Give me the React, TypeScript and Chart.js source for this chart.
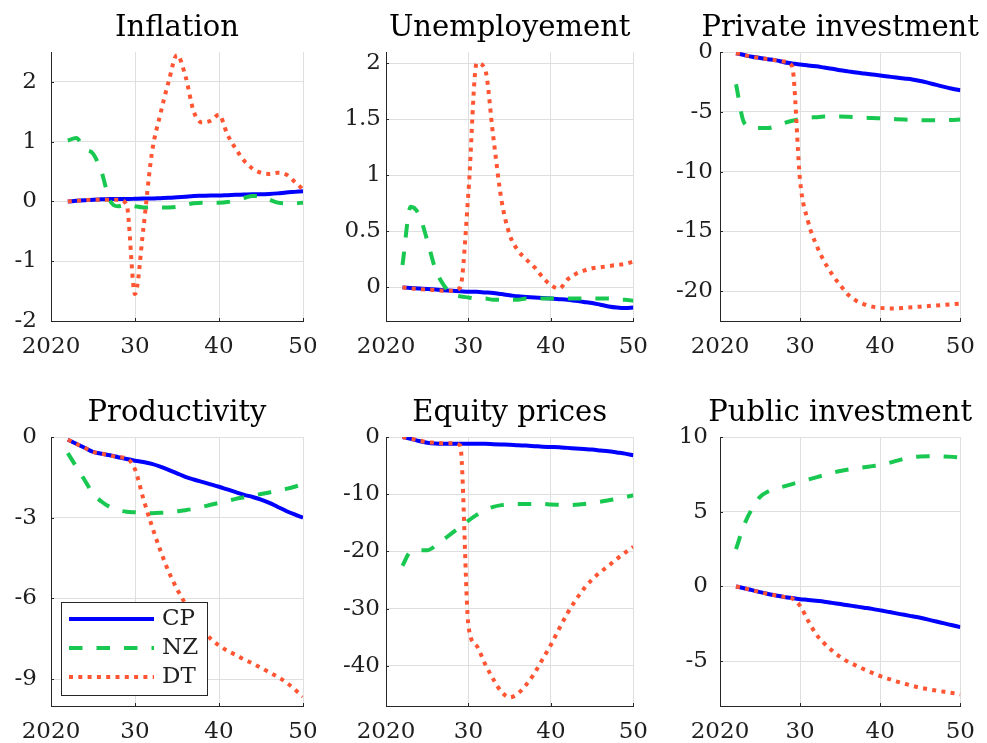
import React, { useEffect, useRef } from 'react';
import { Chart, registerables } from 'chart.js';

Chart.register(...registerables);

// ---------- data ----------
const years = [2022, 2023, 2024, 2025, 2026, 2027, 2028, 2029, 2030, 2031, 2032, 2033, 2034, 2035, 2036, 2037, 2038, 2039, 2040, 2041, 2042, 2043, 2044, 2045, 2046, 2047, 2048, 2049, 2050];
const xTicks = [2020, 2030, 2040, 2050];
const xTickLabels = ['2020', '30', '40', '50'];
const seriesNames = ['CP', 'NZ', 'DT'];
const panelTitles = ['Inflation', 'Unemployement', 'Private investment', 'Productivity', 'Equity prices', 'Public investment'];

const inflationCP = [0, 0.01, 0.02, 0.03, 0.035, 0.04, 0.04, 0.04, 0.045, 0.05, 0.05, 0.055, 0.06, 0.07, 0.08, 0.09, 0.095, 0.1, 0.1, 0.105, 0.11, 0.115, 0.12, 0.12, 0.125, 0.135, 0.15, 0.16, 0.17];
const inflationNZ = [1.02, 1.06, 0.88, 0.8, 0.5, 0.02, -0.08, -0.05, -0.08, -0.1, -0.1, -0.1, -0.1, -0.09, -0.06, -0.03, -0.02, -0.02, -0.02, -0.01, 0.02, 0.06, 0.09, 0.09, 0.03, -0.02, -0.03, -0.03, -0.02];
const inflationDT = [0, 0.01, 0.02, 0.03, 0.03, 0.03, 0.03, -0.05, -1.55, -0.45, 0.8, 1.45, 2.0, 2.45, 2.1, 1.5, 1.32, 1.35, 1.45, 1.12, 0.88, 0.68, 0.55, 0.48, 0.46, 0.48, 0.45, 0.33, 0.2];

const unempCP = [0, -0.005, -0.01, -0.015, -0.02, -0.025, -0.03, -0.035, -0.04, -0.04, -0.045, -0.05, -0.06, -0.07, -0.08, -0.085, -0.09, -0.095, -0.1, -0.105, -0.11, -0.12, -0.13, -0.14, -0.155, -0.17, -0.18, -0.185, -0.18];
const unempNZ = [0.2, 0.72, 0.65, 0.42, 0.16, 0.02, -0.06, -0.08, -0.09, -0.1, -0.1, -0.11, -0.11, -0.11, -0.11, -0.1, -0.1, -0.1, -0.1, -0.1, -0.1, -0.1, -0.1, -0.1, -0.1, -0.1, -0.11, -0.11, -0.12];
const unempDT = [0, -0.01, -0.015, -0.02, -0.025, -0.03, -0.03, 0.0, 0.85, 2.0, 1.95, 1.35, 0.78, 0.47, 0.33, 0.25, 0.18, 0.09, 0.02, -0.01, 0.07, 0.12, 0.15, 0.17, 0.18, 0.19, 0.2, 0.21, 0.23];

const privCP = [-0.1, -0.25, -0.4, -0.5, -0.6, -0.7, -0.85, -0.95, -1.05, -1.12, -1.2, -1.3, -1.4, -1.52, -1.62, -1.72, -1.8, -1.88, -1.96, -2.05, -2.14, -2.22, -2.3, -2.42, -2.58, -2.75, -2.92, -3.07, -3.2];
const privNZ = [-2.7, -5.9, -6.3, -6.35, -6.35, -6.2, -5.95, -5.75, -5.6, -5.5, -5.45, -5.4, -5.4, -5.4, -5.42, -5.45, -5.5, -5.52, -5.55, -5.58, -5.62, -5.65, -5.67, -5.7, -5.7, -5.7, -5.7, -5.68, -5.65];
const privDT = [-0.1, -0.25, -0.4, -0.5, -0.6, -0.7, -0.8, -1.2, -10.8, -14.2, -16.1, -17.5, -18.6, -19.5, -20.3, -20.8, -21.1, -21.3, -21.4, -21.45, -21.45, -21.4, -21.35, -21.3, -21.25, -21.2, -21.15, -21.1, -21.05];

const prodCP = [-0.1, -0.25, -0.4, -0.55, -0.62, -0.68, -0.75, -0.82, -0.88, -0.93, -1.0, -1.1, -1.22, -1.35, -1.48, -1.58, -1.67, -1.76, -1.85, -1.95, -2.05, -2.15, -2.23, -2.33, -2.45, -2.6, -2.75, -2.88, -3.0];
const prodNZ = [-0.6, -1.1, -1.6, -2.1, -2.4, -2.6, -2.72, -2.78, -2.8, -2.82, -2.83, -2.82, -2.8, -2.76, -2.72, -2.67, -2.6, -2.52, -2.45, -2.38, -2.3, -2.24, -2.18, -2.12, -2.06, -2.0, -1.93, -1.85, -1.75];
const prodDT = [-0.1, -0.25, -0.4, -0.55, -0.62, -0.68, -0.75, -0.8, -1.2, -2.3, -3.3, -4.2, -5.0, -5.65, -6.2, -6.7, -7.15, -7.5, -7.75, -7.95, -8.1, -8.27, -8.42, -8.58, -8.75, -8.92, -9.12, -9.38, -9.65];

const equityCP = [0, -0.3, -0.7, -1.0, -1.15, -1.2, -1.2, -1.2, -1.2, -1.2, -1.2, -1.25, -1.3, -1.35, -1.45, -1.5, -1.6, -1.7, -1.75, -1.8, -1.9, -2.0, -2.1, -2.2, -2.35, -2.5, -2.7, -2.9, -3.2];
const equityNZ = [-22.5, -20, -19.8, -19.8, -19, -17.9, -16.8, -15.7, -14.6, -13.6, -12.8, -12.2, -11.9, -11.75, -11.7, -11.7, -11.7, -11.7, -11.8, -11.85, -11.9, -11.85, -11.7, -11.5, -11.3, -11.05, -10.8, -10.5, -10.2];
const equityDT = [0, -0.3, -0.6, -0.9, -1.0, -1.1, -1.1, -1.5, -33, -36.5, -39.6, -42.3, -44.5, -45.5, -44.8, -43.3, -41.3, -38.8, -36.3, -33.5, -30.8, -28.5, -26.5, -24.9, -23.6, -22.5, -21.3, -20.2, -19.2];

const pubCP = [0, -0.12, -0.25, -0.38, -0.5, -0.6, -0.7, -0.78, -0.85, -0.9, -0.96, -1.02, -1.1, -1.18, -1.26, -1.34, -1.42, -1.5, -1.6, -1.7, -1.8, -1.9, -2.0, -2.1, -2.22, -2.35, -2.47, -2.6, -2.72];
const pubNZ = [2.5, 4.1, 5.2, 6.0, 6.35, 6.55, 6.7, 6.85, 7.0, 7.15, 7.3, 7.45, 7.6, 7.72, 7.82, 7.9, 7.97, 8.05, 8.12, 8.25, 8.4, 8.55, 8.65, 8.7, 8.72, 8.72, 8.7, 8.67, 8.63];
const pubDT = [0, -0.12, -0.25, -0.38, -0.5, -0.6, -0.7, -0.8, -1.3, -2.3, -3.2, -3.8, -4.3, -4.72, -5.05, -5.3, -5.55, -5.78, -6.0, -6.18, -6.35, -6.5, -6.65, -6.78, -6.88, -6.97, -7.05, -7.13, -7.22];

const inflationTicks = [-2, -1, 0, 1, 2];
const inflationTickLabels = ['-2', '-1', '0', '1', '2'];
const unempTicks = [0, 0.5, 1, 1.5, 2];
const unempTickLabels = ['0', '0.5', '1', '1.5', '2'];
const privTicks = [-20, -15, -10, -5, 0];
const privTickLabels = ['-20', '-15', '-10', '-5', '0'];
const prodTicks = [-9, -6, -3, 0];
const prodTickLabels = ['-9', '-6', '-3', '0'];
const equityTicks = [-40, -30, -20, -10, 0];
const equityTickLabels = ['-40', '-30', '-20', '-10', '0'];
const pubTicks = [-5, 0, 5, 10];
const pubTickLabels = ['-5', '0', '5', '10'];

const panels = [
  { title: panelTitles[0], series: [inflationCP, inflationNZ, inflationDT], yMin: -2, yMax: 2.5, ticks: inflationTicks, tickLabels: inflationTickLabels },
  { title: panelTitles[1], series: [unempCP, unempNZ, unempDT], yMin: -0.3, yMax: 2.1, ticks: unempTicks, tickLabels: unempTickLabels },
  { title: panelTitles[2], series: [privCP, privNZ, privDT], yMin: -22.5, yMax: 0, ticks: privTicks, tickLabels: privTickLabels },
  { title: panelTitles[3], series: [prodCP, prodNZ, prodDT], yMin: -10, yMax: 0, ticks: prodTicks, tickLabels: prodTickLabels },
  { title: panelTitles[4], series: [equityCP, equityNZ, equityDT], yMin: -47, yMax: 0, ticks: equityTicks, tickLabels: equityTickLabels },
  { title: panelTitles[5], series: [pubCP, pubNZ, pubDT], yMin: -8, yMax: 10, ticks: pubTicks, tickLabels: pubTickLabels },
];

// ---------- styles / layout ----------
const FONT = '"DejaVu Serif", serif';
const TEXT = '#1f1f1f';
const AXIS = '#262626';
const GRID = '#dfdfdf';
const styles = [
  { color: '#0000ff', dash: [] as number[], order: 2 },
  { color: '#19c850', dash: [13.5, 14], order: 1 },
  { color: '#ff5533', dash: [4, 5.3], order: 0 },
];

const cols = [
  { x: 0, w: 330, plotL: 51, plotR: 303 },
  { x: 330, w: 330, plotL: 386, plotR: 638 },
  { x: 660, w: 327, plotL: 720, plotR: 972 },
];
const rows = [
  { y: 0, h: 370, plotT: 52, plotB: 321 },
  { y: 385, h: 358, plotT: 437, plotB: 706 },
];
const labelPads = [14, 5, 7, 14, 6, 12];

// Panel title, centred over the plot area, not squeezed to its width
const titlePlugin = {
  id: 'panelTitle',
  afterDraw(chart: any, _args: any, opts: any) {
    const { ctx, chartArea } = chart;
    ctx.save();
    ctx.fillStyle = '#000000';
    ctx.font = `29px ${FONT}`;
    ctx.textAlign = 'center';
    ctx.textBaseline = 'alphabetic';
    ctx.fillText(opts.text, (chartArea.left + chartArea.right) / 2, chartArea.top - 16);
    ctx.restore();
  },
};

// Short inward tick marks on the left and bottom axes
const innerTicksPlugin = {
  id: 'innerTicks',
  afterDatasetsDraw(chart: any) {
    const { ctx, chartArea, scales } = chart;
    const len = 3;
    ctx.save();
    ctx.strokeStyle = AXIS;
    ctx.lineWidth = 1;
    ctx.setLineDash([]);
    ctx.beginPath();
    scales.y.ticks.forEach((t: any) => {
      const py = Math.round(scales.y.getPixelForValue(t.value)) + 0.5;
      ctx.moveTo(chartArea.left, py);
      ctx.lineTo(chartArea.left + len, py);
    });
    scales.x.ticks.forEach((t: any) => {
      const px = Math.round(scales.x.getPixelForValue(t.value)) + 0.5;
      ctx.moveTo(px, chartArea.bottom);
      ctx.lineTo(px, chartArea.bottom - len);
    });
    ctx.stroke();
    ctx.restore();
  },
};

const legendPlugin = {
  id: 'boxLegend',
  afterDatasetsDraw(chart: any) {
    const { ctx, chartArea } = chart;
    const w = 147;
    const h = 94;
    const x0 = chartArea.left + 10;
    const y0 = chartArea.bottom - 10 - h;
    ctx.save();
    ctx.fillStyle = '#ffffff';
    ctx.fillRect(x0, y0, w, h);
    ctx.strokeStyle = AXIS;
    ctx.lineWidth = 1;
    ctx.setLineDash([]);
    ctx.strokeRect(x0 + 0.5, y0 + 0.5, w - 1, h - 1);
    chart.data.datasets.forEach((ds: any, i: number) => {
      const yy = y0 + 17 + i * 29;
      ctx.beginPath();
      ctx.setLineDash(ds.borderDash || []);
      ctx.lineCap = 'butt';
      ctx.lineWidth = ds.borderWidth;
      ctx.strokeStyle = ds.borderColor;
      ctx.moveTo(x0 + 8, yy);
      ctx.lineTo(x0 + 93, yy);
      ctx.stroke();
      ctx.setLineDash([]);
      ctx.fillStyle = TEXT;
      ctx.font = `23px ${FONT}`;
      ctx.textAlign = 'left';
      ctx.textBaseline = 'middle';
      ctx.fillText(ds.label, x0 + 101, yy);
    });
    ctx.restore();
  },
};

function Panel({ index }: { index: number }) {
  const ref = useRef<HTMLCanvasElement | null>(null);
  const p = panels[index];
  const col = cols[index % 3];
  const row = rows[Math.floor(index / 3)];
  const yAxisWidth = col.plotL - col.x;
  const padRight = col.x + col.w - col.plotR;
  const xAxisHeight = row.y + row.h - row.plotB;
  const padTop = row.plotT - row.y;

  useEffect(() => {
    if (!ref.current) return;
    const datasets = p.series.map((vals, i) => ({
      label: seriesNames[i],
      data: years.map((x, j) => ({ x, y: vals[j] })),
      borderColor: styles[i].color,
      backgroundColor: styles[i].color,
      borderWidth: 4,
      borderDash: styles[i].dash,
      borderCapStyle: 'butt' as const,
      pointRadius: 0,
      fill: false,
      cubicInterpolationMode: 'monotone' as const,
      order: styles[i].order,
    }));
    const chart = new Chart(ref.current, {
      type: 'line',
      data: { datasets },
      options: {
        animation: false,
        responsive: false,
        devicePixelRatio: 1,
        layout: { padding: { left: 0, right: padRight, top: padTop, bottom: 0 } },
        plugins: {
          legend: { display: false },
          tooltip: { enabled: false },
          title: { display: false },
          panelTitle: { text: p.title },
        },
        scales: {
          x: {
            type: 'linear',
            min: 2020,
            max: 2050,
            afterBuildTicks: (s: any) => {
              s.ticks = xTicks.map((v) => ({ value: v }));
            },
            afterFit: (s: any) => {
              s.height = xAxisHeight;
            },
            ticks: {
              autoSkip: false,
              maxRotation: 0,
              padding: 12,
              color: TEXT,
              font: { family: FONT, size: 23 },
              callback: (_v: any, i: number) => xTickLabels[i],
            },
            grid: { color: GRID, lineWidth: 1, drawTicks: false },
            border: { color: AXIS, width: 1 },
          },
          y: {
            type: 'linear',
            min: p.yMin,
            max: p.yMax,
            afterBuildTicks: (s: any) => {
              s.ticks = p.ticks.map((v) => ({ value: v }));
            },
            afterFit: (s: any) => {
              s.width = yAxisWidth;
            },
            ticks: {
              autoSkip: false,
              padding: labelPads[index],
              color: TEXT,
              font: { family: FONT, size: 23 },
              callback: (_v: any, i: number) => p.tickLabels[i],
            },
            grid: { color: GRID, lineWidth: 1, drawTicks: false },
            border: { color: AXIS, width: 1 },
          },
        },
      },
      plugins: index === 3 ? [titlePlugin, innerTicksPlugin, legendPlugin] : [titlePlugin, innerTicksPlugin],
    } as any);
    return () => chart.destroy();
  }, [index]);

  return (
    <canvas
      ref={ref}
      width={col.w}
      height={row.h}
      style={{ position: 'absolute', left: col.x, top: row.y, width: col.w, height: row.h }}
    />
  );
}

export default function App() {
  return (
    <div style={{ position: 'absolute', left: 0, top: 0, width: 987, height: 743, background: '#ffffff', overflow: 'hidden' }}>
      {panels.map((_, i) => (
        <Panel key={i} index={i} />
      ))}
    </div>
  );
}
